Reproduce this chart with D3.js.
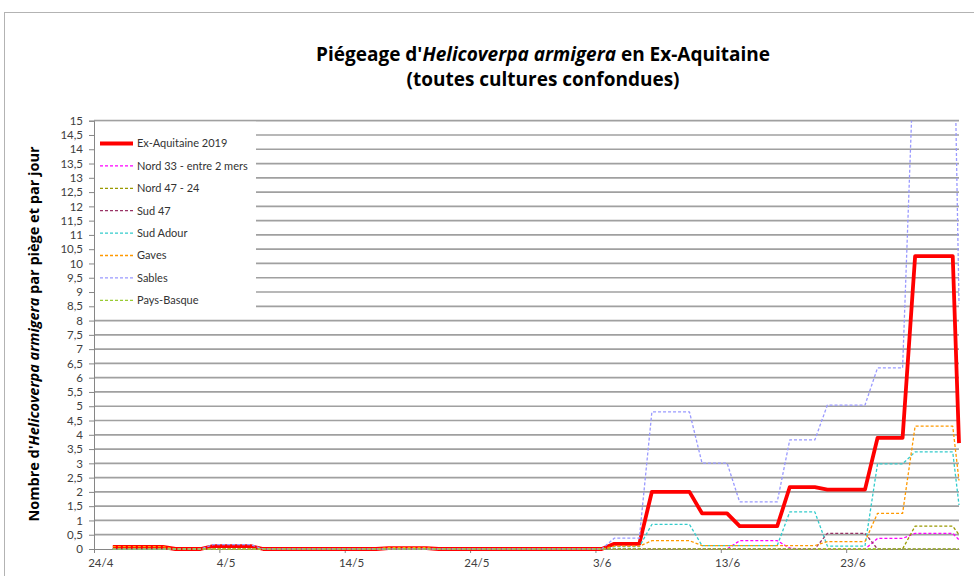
<!DOCTYPE html>
<html><head><meta charset="utf-8">
<script src="https://cdn.jsdelivr.net/npm/d3@7"></script>
<style>body{margin:0;background:#fff}svg{display:block}</style>
</head><body><svg id="c" width="974" height="576"></svg>
<script>
// ---- DATA ----
// one trap reading per day, 25/4/2019 .. 2/7/2019 (69 days)
const dates = d3.timeDay.range(new Date(2019,3,25), new Date(2019,6,3));
const xTickDates = [new Date(2019,3,24), new Date(2019,4,4), new Date(2019,4,14), new Date(2019,4,24),
                    new Date(2019,5,3), new Date(2019,5,13), new Date(2019,5,23)];
const yTicks = [0,0.5,1,1.5,2,2.5,3,3.5,4,4.5,5,5.5,6,6.5,7,7.5,8,8.5,9,9.5,10,10.5,11,11.5,12,12.5,13,13.5,14,14.5,15];
const seriesNames = ["Ex-Aquitaine 2019","Nord 33 - entre 2 mers","Nord 47 - 24","Sud 47","Sud Adour","Gaves","Sables","Pays-Basque"];

const exAquitaine = [
 0.07,0.07,0.07,0.07,0.07,0,0,0,0.1,0.1,
 0.1,0.1,0,0,0,0,0,0,0,0,
 0,0,0.03,0.03,0.03,0.03,0,0,0,0,
 0,0,0,0,0,0,0,0,0,0,
 0.18,0.18,0.18,2.0,2.0,2.0,2.0,1.25,1.25,1.25,
 0.8,0.8,0.8,0.8,2.17,2.17,2.17,2.08,2.08,2.08,
 2.08,3.89,3.89,3.89,10.26,10.26,10.26,10.26,3.71];
const nord33 = [
 0,0,0,0,0,0,0,0,0,0,
 0,0,0,0,0,0,0,0,0,0,
 0,0,0,0,0,0,0,0,0,0,
 0,0,0,0,0,0,0,0,0,0,
 0,0,0,0,0,0,0,0,0,0,
 0.29,0.29,0.29,0.29,0.03,0,0,0,0,0,
 0,0.37,0.37,0.37,0.55,0.55,0.55,0.55,0.32];
const nord4724 = [
 0,0,0,0,0,0,0,0,0,0,
 0,0,0,0,0,0,0,0,0,0,
 0,0,0,0,0,0,0,0,0,0,
 0,0,0,0,0,0,0,0,0,0,
 0,0,0,0,0,0,0,0,0,0,
 0,0,0,0,0,0,0,0,0,0,
 0,0,0,0,0.8,0.8,0.8,0.8,0.5];
const sud47 = [
 0,0,0,0,0,0,0,0,0,0,
 0,0,0,0,0,0,0,0,0,0,
 0,0,0,0,0,0,0,0,0,0,
 0,0,0,0,0,0,0,0,0,0,
 0,0,0,0,0,0,0,0,0,0,
 0,0,0,0,0,0,0,0.55,0.55,0.55,
 0.55,0,0,0,0,0,0,0,0];
const sudAdour = [
 0,0,0,0,0,0,0,0,0,0,
 0,0,0,0,0,0,0,0,0,0,
 0,0,0,0,0,0,0,0,0,0,
 0,0,0,0,0,0,0,0,0,0,
 0.08,0.08,0.08,0.86,0.86,0.86,0.86,0.12,0.12,0.12,
 0.12,0.12,0.12,0.12,1.3,1.3,1.3,0.1,0.1,0.1,
 0.1,2.98,2.98,2.98,3.4,3.4,3.4,3.4,1.54];
const gaves = [
 0.08,0.08,0.08,0.08,0.08,0,0,0,0,0,
 0,0,0,0,0,0,0,0,0,0,
 0,0,0.05,0.05,0.05,0.05,0,0,0,0,
 0,0,0,0,0,0,0,0,0,0,
 0.1,0.1,0.1,0.29,0.29,0.29,0.29,0.12,0.12,0.12,
 0.12,0.12,0.12,0.12,0.12,0.12,0.12,0.26,0.26,0.26,
 0.26,1.25,1.25,1.25,4.3,4.3,4.3,4.3,2.4];
const sables = [
 0,0,0,0,0,0,0,0,0.15,0.15,
 0.15,0.15,0,0,0,0,0,0,0,0,
 0,0,0,0,0,0,0,0,0,0,
 0,0,0,0,0,0,0,0,0,0,
 0.38,0.38,0.38,4.8,4.8,4.8,4.8,3.01,3.01,3.01,
 1.65,1.65,1.65,1.65,3.82,3.82,3.82,5.04,5.04,5.04,
 5.04,6.34,6.34,6.34,18.5,20,21,21.4,8.6];
const paysBasque = [
 0,0,0,0,0,0,0,0,0,0,
 0,0,0,0,0,0,0,0,0,0,
 0,0,0,0,0,0,0,0,0,0,
 0,0,0,0,0,0,0,0,0,0,
 0,0,0,0,0,0,0,0,0,0,
 0,0,0,0,0,0,0,0,0,0,
 0,0,0,0,0,0,0,0,0];

const seriesValues = [exAquitaine, nord33, nord4724, sud47, sudAdour, gaves, sables, paysBasque];
const seriesColors = ["#ff0000","#ff00ff","#999900","#993366","#33cccc","#ff9900","#9999ff","#99cc33"];

// ---- CHART ----
const svg = d3.select("#c");
const font = "Lato, 'Open Sans', sans-serif";
const titleFont = "'Open Sans', Lato, sans-serif";
const L = 94, R = 959, T = 120.7, B = 549;

svg.append("rect").attr("x",4.5).attr("y",12.5).attr("width",1000).attr("height",600)
  .attr("fill","#fff").attr("stroke","#b3b3b3").attr("stroke-width",1);

const x = d3.scaleTime().domain([new Date(2019,3,24), new Date(2019,6,2)]).range([L, R]);
const y = d3.scaleLinear().domain([0,15]).range([B, T]);
const halfDay = (x(new Date(2019,3,25)) - x(new Date(2019,3,24))) / 2;
const px = d => Math.min(x(d) + halfDay, R);

const fr = d3.formatLocale({decimal:",", thousands:" ", grouping:[3], currency:["","€"]});
const fmtY = fr.format("~g");
const fmtX = d3.timeFormat("%-d/%-m");

// gridlines
svg.append("g").selectAll("line").data(yTicks.filter(v => v > 0)).join("line")
  .attr("x1", L).attr("x2", R).attr("y1", d => y(d)).attr("y2", d => y(d))
  .attr("stroke", "#a0a0a0").attr("stroke-width", 1.7);

// y axis
const yAxis = svg.append("g").attr("transform", `translate(${L},0)`)
  .call(d3.axisLeft(y).tickValues(yTicks).tickFormat(fmtY).tickSize(5).tickPadding(6));
yAxis.select(".domain").attr("stroke", "#868686");
yAxis.selectAll(".tick line").attr("stroke", "#868686");
yAxis.selectAll("text").attr("font-family", font).attr("font-size", 11.5).attr("fill", "#404040");

// x axis
const xAxis = svg.append("g").attr("transform", `translate(0,${B})`)
  .call(d3.axisBottom(x).tickValues(xTickDates).tickFormat(fmtX).tickSize(4).tickPadding(6).tickSizeOuter(0));
xAxis.select(".domain").attr("stroke", "#868686");
xAxis.selectAll(".tick line").attr("stroke", "#868686");
xAxis.selectAll("text").attr("font-family", font).attr("font-size", 11.5).attr("fill", "#404040")
  .attr("dx", halfDay);

// lines
svg.append("clipPath").attr("id","clip").append("rect")
  .attr("x", L).attr("y", T).attr("width", R - L + 2).attr("height", 576 - T);
const gLines = svg.append("g").attr("clip-path","url(#clip)");
const line = d3.line().x((v,i) => px(dates[i])).y(v => y(v));
seriesValues.forEach((vals, k) => {
  gLines.append("path").datum(vals).attr("d", line)
    .attr("fill","none").attr("stroke", seriesColors[k])
    .attr("stroke-width", k === 0 ? 3.8 : 1.3)
    .attr("stroke-dasharray", k === 0 ? null : "3,2")
    .attr("stroke-linejoin","round");
});

// legend
svg.append("rect").attr("x", L + 1).attr("y", T + 1).attr("width", 161).attr("height", 191).attr("fill", "#fff");
const lg = svg.append("g");
seriesNames.forEach((name, k) => {
  const yy = 143.5 + k * 22.4;
  lg.append("line").attr("x1", 100).attr("x2", 133).attr("y1", yy).attr("y2", yy)
    .attr("stroke", seriesColors[k]).attr("stroke-width", k === 0 ? 3.8 : 1.3)
    .attr("stroke-dasharray", k === 0 ? null : "3,2");
  lg.append("text").attr("x", 137).attr("y", yy).attr("dy", "0.35em")
    .attr("font-family", font).attr("font-size", 11).attr("fill", "#333").text(name);
});

// title
const title = svg.append("text").attr("x", 543).attr("y", 61).attr("text-anchor","middle")
  .attr("font-family", titleFont).attr("font-weight","bold").attr("font-size", 19).attr("fill","#000");
title.append("tspan").text("Piégeage d'");
title.append("tspan").attr("font-style","italic").text("Helicoverpa armigera");
title.append("tspan").text(" en Ex-Aquitaine");
svg.append("text").attr("x", 543).attr("y", 86).attr("text-anchor","middle")
  .attr("font-family", titleFont).attr("font-weight","bold").attr("font-size", 19).attr("fill","#000")
  .text("(toutes cultures confondues)");

// y axis title
const yt = svg.append("text").attr("transform", "translate(39,334) rotate(-90)").attr("text-anchor","middle")
  .attr("font-family", titleFont).attr("font-weight","bold").attr("font-size", 14.5).attr("fill","#000");
yt.append("tspan").text("Nombre d'");
yt.append("tspan").attr("font-style","italic").text("Helicoverpa armigera");
yt.append("tspan").text(" par piège et par jour");
</script></body></html>
